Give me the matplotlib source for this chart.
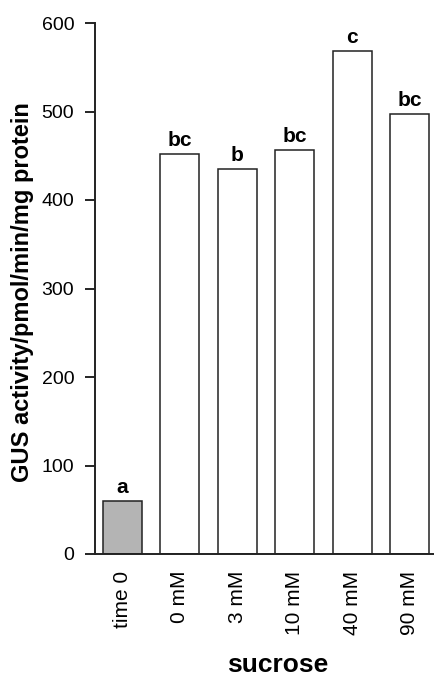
import matplotlib
matplotlib.use("Agg")
import matplotlib.pyplot as plt

categories = ["time 0", "0 mM", "3 mM", "10 mM", "40 mM", "90 mM"]
values = [60, 452, 435, 457, 568, 497]
letters = ["a", "bc", "b", "bc", "c", "bc"]
colors = ["#b4b4b4", "white", "white", "white", "white", "white"]
yticks = [0, 100, 200, 300, 400, 500, 600]

plt.rcParams['font.family'] = ['Liberation Sans', 'DejaVu Sans']

W, H = 435, 677
fig = plt.figure(figsize=(W / 100, H / 100), dpi=100)
ax = fig.add_axes([95 / W, 1 - 554 / H, (434 - 95) / W, (554 - 23) / H])

x = list(range(len(categories)))
ax.bar(x, values, width=0.68, color=colors, edgecolor="#222222", linewidth=1.1, zorder=2)
for xi, v, l in zip(x, values, letters):
    ax.text(xi, v + 9, l, ha="center", va="baseline", fontsize=15, fontweight="bold")

ax.set_xlim(-0.477, 5.425)
ax.set_ylim(0, 600)
ax.set_yticks(yticks)
ax.set_xticks(x)
ax.set_xticklabels(categories, rotation=90, fontsize=15)
ax.tick_params(axis="x", length=0, pad=12)
ax.tick_params(axis="y", length=7, width=1.2, direction="out", labelsize=14, pad=8)
for s in ["top", "right"]:
    ax.spines[s].set_visible(False)
for s in ["left", "bottom"]:
    ax.spines[s].set_linewidth(1.4)
    ax.spines[s].set_color("#222222")

fig.text(23 / W, 1 - 292 / H, "GUS activity/pmol/min/mg protein", rotation=90,
         ha="center", va="center", fontsize=17, fontweight="bold")
fig.text(278 / W, 1 - 672 / H, "sucrose", ha="center", va="baseline",
         fontsize=19, fontweight="bold")

fig.savefig("out.png", dpi=100)
